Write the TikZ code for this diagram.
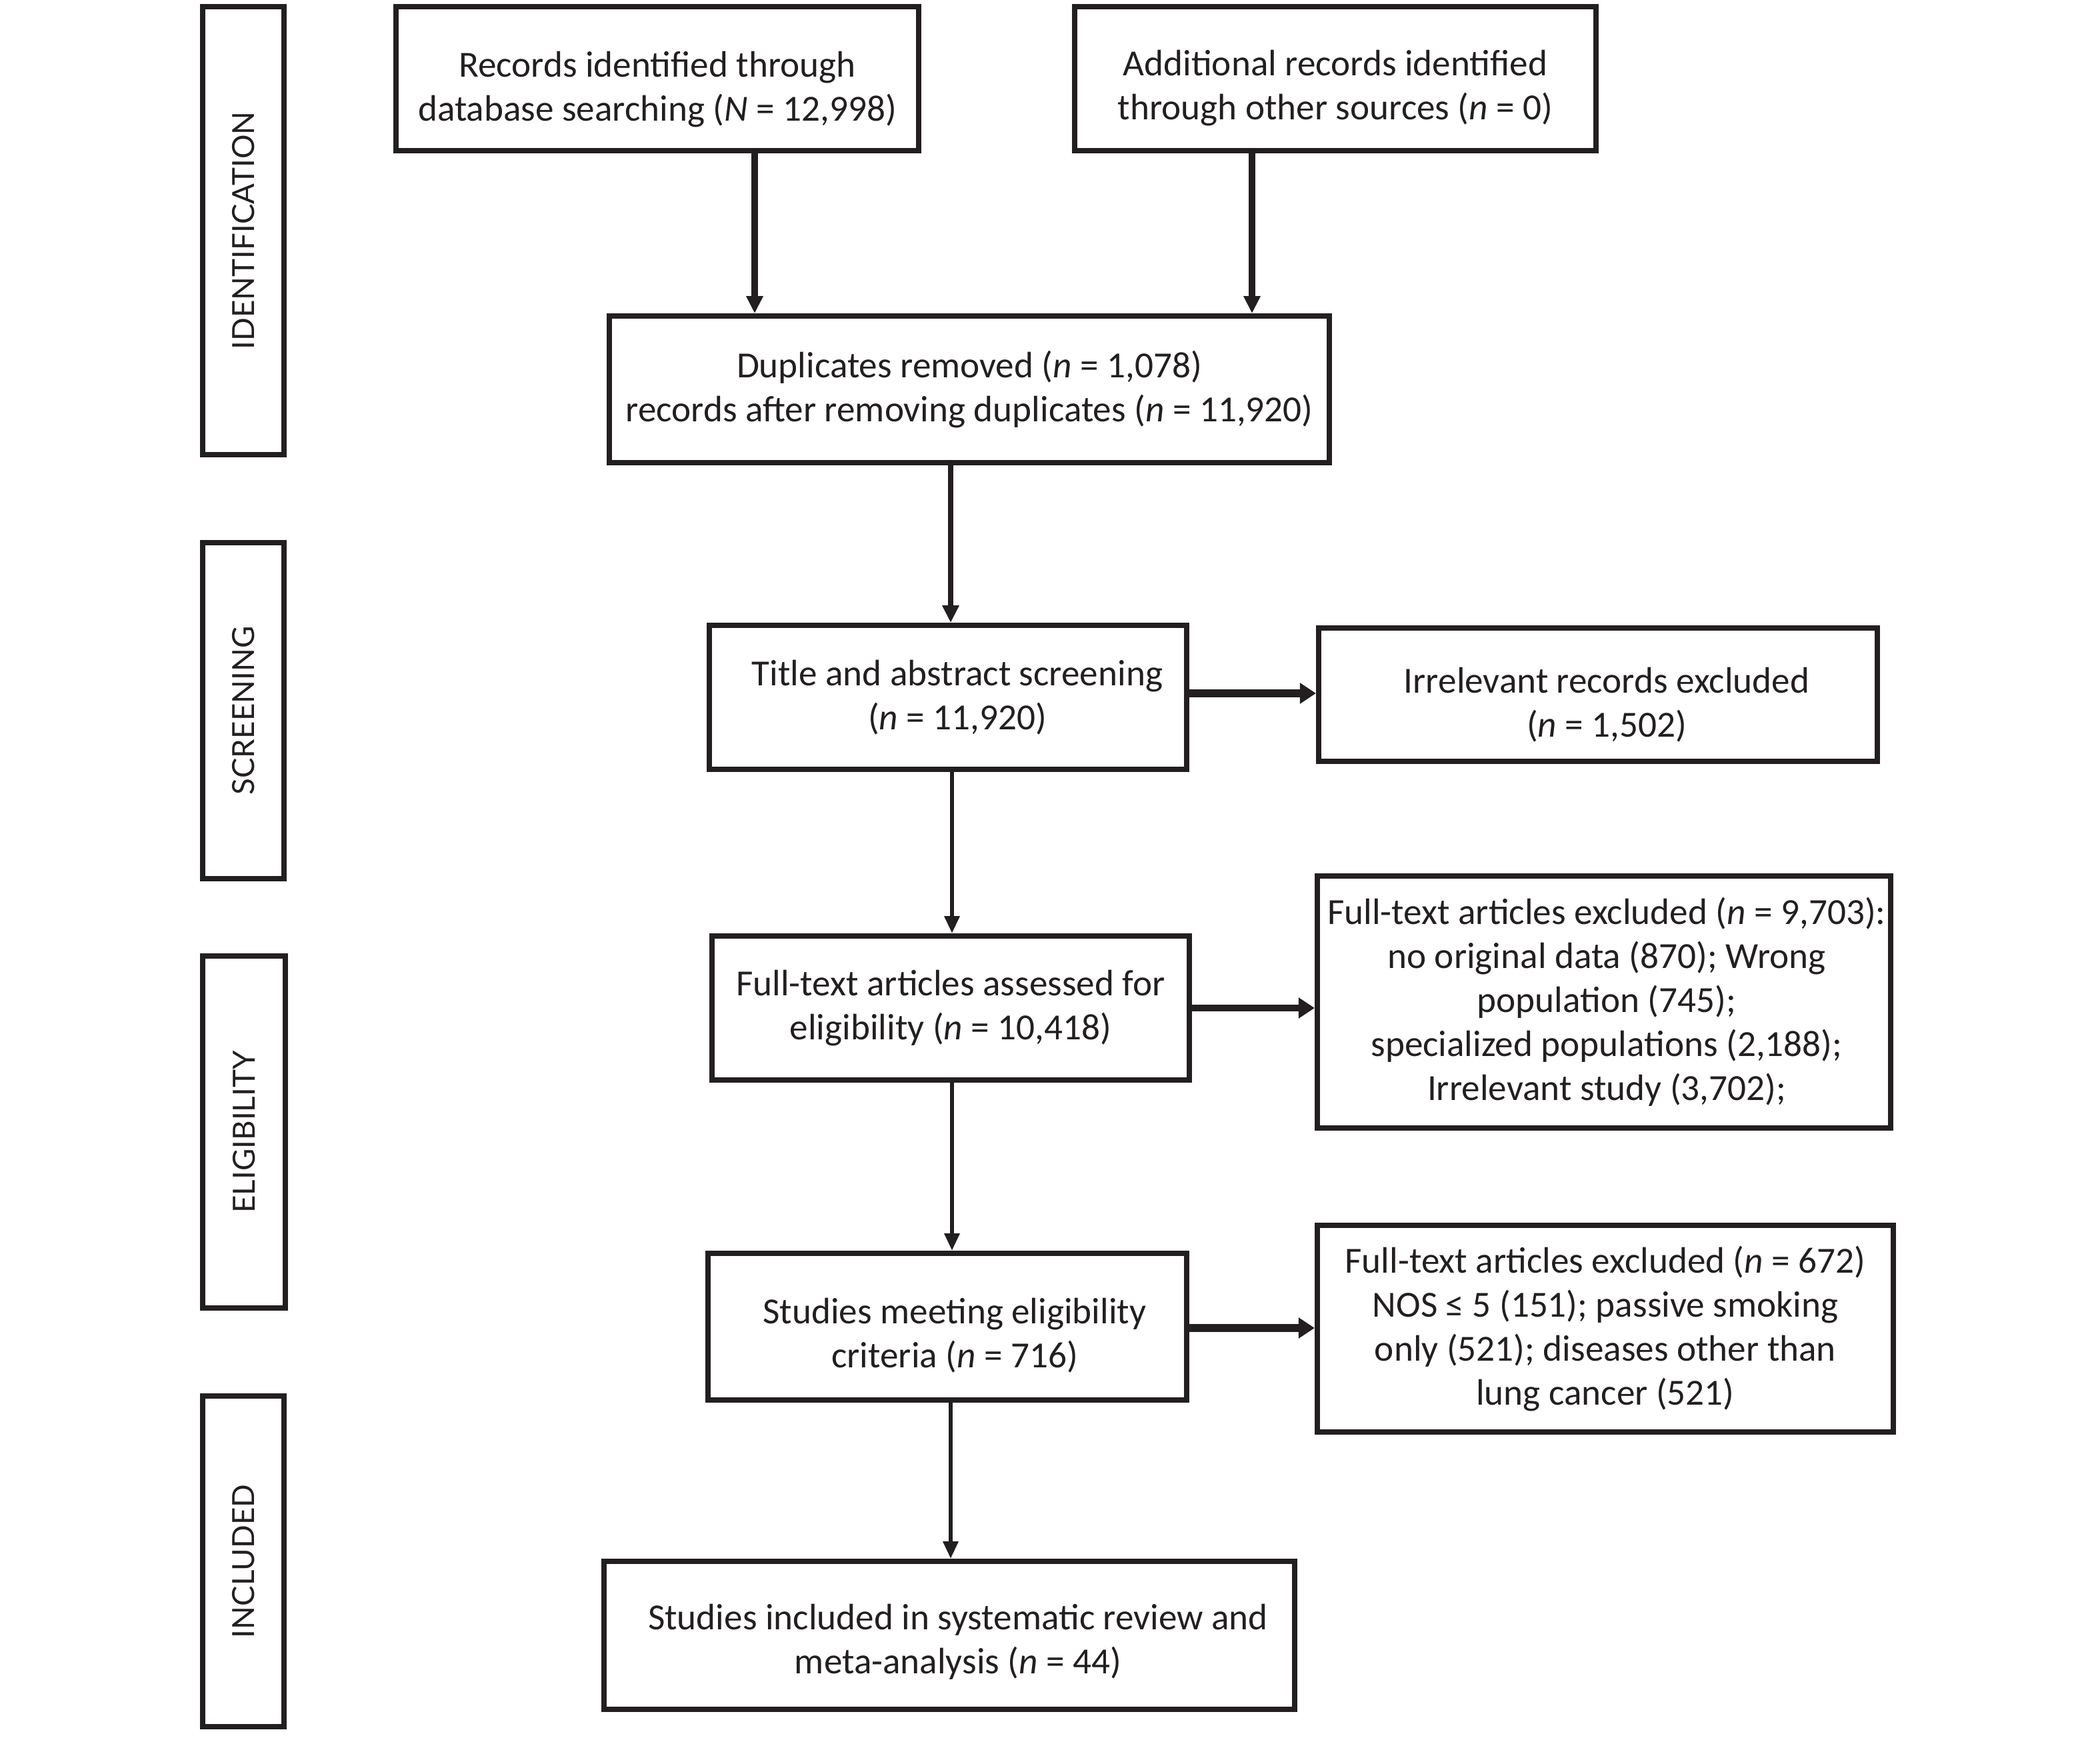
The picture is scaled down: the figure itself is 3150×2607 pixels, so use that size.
\documentclass[tikz,border=0pt]{standalone}
\usepackage{fontspec}
\setmainfont{Carlito}
\newfontfamily\sidefont{Lato}
\usetikzlibrary{arrows.meta}
\definecolor{ink}{HTML}{231F20}
\newcommand\dnsh[1]{\rule{0pt}{#1}}
\newcommand\rsh[1]{\hspace*{#1}}
\begin{document}
\begin{tikzpicture}[x=0.01cm,y=-0.01cm,
  box/.style={draw=ink, text=ink, line width=2.2pt, align=center, inner sep=0pt,
    font=\fontsize{15.7}{18.8}\selectfont},
  side/.style={draw=ink, text=ink, line width=2.2pt, rotate=90, inner sep=0pt,
    font=\sidefont\fontsize{13}{16}\selectfont},
  arr/.style={draw=ink, line width=2.8pt, -{Triangle[length=0.26cm,width=0.24cm]}},
  arrthin/.style={draw=ink, line width=1.8pt, -{Triangle[length=0.26cm,width=0.22cm]}},
  arrwide/.style={draw=ink, line width=3.4pt, -{Triangle[length=0.24cm,width=0.30cm]}}]
\useasboundingbox (0,0) rectangle (3150,2607);

% side labels
\node[side, minimum width=6.72cm, minimum height=1.22cm] (sid) at (365,346) {IDENTIFICATION};
\node[side, minimum width=5.04cm, minimum height=1.22cm] (ssc) at (365,1066) {SCREENING};
\node[side, minimum width=5.28cm, minimum height=1.24cm] (sel) at (366,1698) {ELIGIBILITY};
\node[side, minimum width=4.96cm, minimum height=1.22cm] (sin) at (365,2342) {INCLUDED};

% boxes
\node[box, minimum width=7.84cm, minimum height=2.16cm] (rec) at (986,118)
  {\dnsh{20pt}Records identified through\\database searching (\textit{N} = 12,998)};
\node[box, minimum width=7.82cm, minimum height=2.16cm] (add) at (2003,118)
  {\dnsh{19pt}Additional records identified\\through other sources (\textit{n} = 0)};
\node[box, minimum width=10.80cm, minimum height=2.20cm] (dup) at (1454,584)
  {Duplicates removed (\textit{n} = 1,078)\\records after removing duplicates (\textit{n} = 11,920)};
\node[box, minimum width=7.16cm, minimum height=2.16cm] (tit) at (1422,1046)
  {\rsh{0.28cm}Title and abstract screening\\\rsh{0.28cm}(\textit{n} = 11,920)};
\node[box, minimum width=8.38cm, minimum height=2.00cm] (irr) at (2397,1042)
  {\dnsh{19.5pt}\rsh{0.26cm}Irrelevant records excluded\\\rsh{0.26cm}(\textit{n} = 1,502)};
\node[box, minimum width=7.16cm, minimum height=2.16cm] (ft) at (1426,1512)
  {Full-text articles assessed for\\eligibility (\textit{n} = 10,418)};
\node[box, minimum width=8.60cm, minimum height=3.78cm] (ex1) at (2406,1503)
  {\rsh{0.08cm}Full-text articles excluded (\textit{n} = 9,703):\\\rsh{0.08cm}no original data (870); Wrong\\\rsh{0.08cm}population (745);\\\rsh{0.08cm}specialized populations (2,188);\\\rsh{0.08cm}Irrelevant study (3,702);};
\node[box, minimum width=7.18cm, minimum height=2.20cm] (st) at (1421,1990)
  {\dnsh{18.5pt}\rsh{0.22cm}Studies meeting eligibility\\\rsh{0.22cm}criteria (\textit{n} = 716)};
\node[box, minimum width=8.64cm, minimum height=3.10cm] (ex2) at (2408,1993)
  {Full-text articles excluded (\textit{n} = 672)\\NOS ≤ 5 (151); passive smoking\\only (521); diseases other than\\lung cancer (521)};
\node[box, minimum width=10.36cm, minimum height=2.22cm] (inc) at (1424,2453)
  {\dnsh{16.5pt}\rsh{0.26cm}Studies included in systematic review and\\\rsh{0.26cm}meta-analysis (\textit{n} = 44)};

% guide coordinates
\coordinate (c1) at (1132,0);
\coordinate (c2) at (1878,0);
\coordinate (c3) at (1426,0);
\coordinate (c4) at (1428,0);
\coordinate (h1) at (0,1040);
\coordinate (h2) at (0,1512);
\coordinate (h3) at (0,1992);

% connectors
\draw[arr] (c1 |- rec.south) -- (c1 |- dup.north);
\draw[arr] (c2 |- add.south) -- (c2 |- dup.north);
\draw[arr, line width=2.4pt] (c3 |- dup.south) -- (c3 |- tit.north);
\draw[arrthin] (c4 |- tit.south) -- (c4 |- ft.north);
\draw[arrthin] (c4 |- ft.south) -- (c4 |- st.north);
\draw[arrthin] (c3 |- st.south) -- (c3 |- inc.north);
\draw[arrwide] (tit.east |- h1) -- (irr.west |- h1);
\draw[arrwide, line width=2.8pt] (ft.east |- h2) -- (ex1.west |- h2);
\draw[arrwide] (st.east |- h3) -- (ex2.west |- h3);
\end{tikzpicture}
\end{document}
